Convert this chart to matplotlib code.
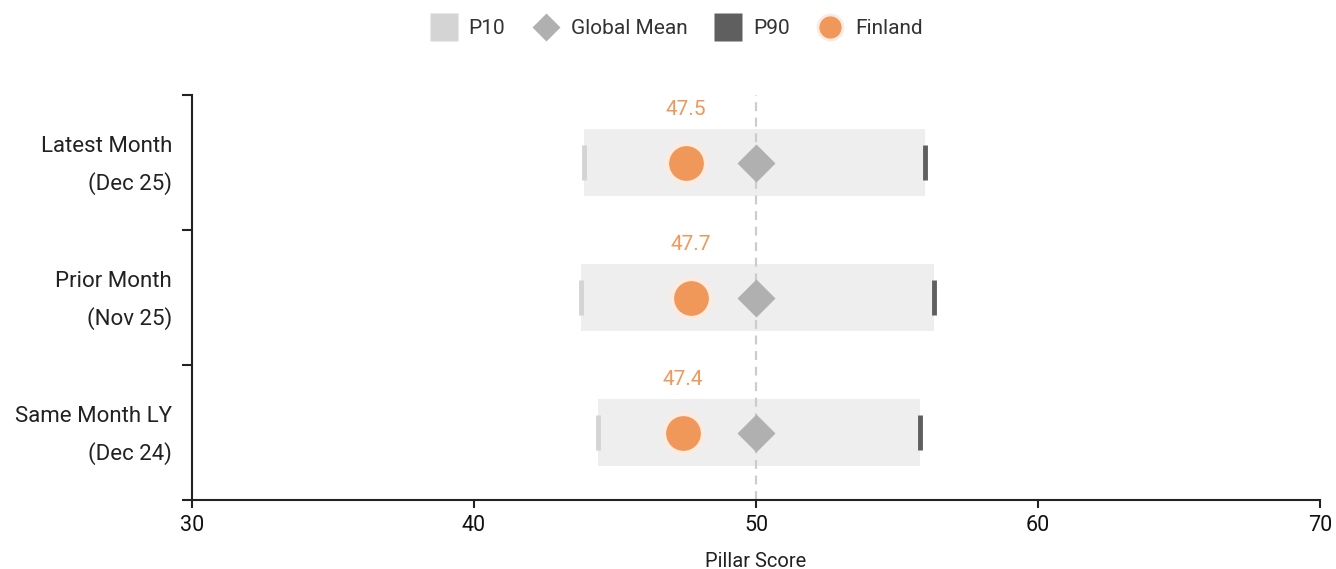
import matplotlib
matplotlib.use("Agg")
import matplotlib.pyplot as plt
import matplotlib.transforms as mtransforms
from matplotlib.lines import Line2D
from matplotlib.patches import Rectangle

plt.rcParams["font.family"] = ["Roboto", "DejaVu Sans"]

# Data
categories = ["Latest Month\n(Dec 25)", "Prior Month\n(Nov 25)", "Same Month LY\n(Dec 24)"]
p10 = [43.9, 43.8, 44.4]
p90 = [56.0, 56.3, 55.8]
global_mean = [50.0, 50.0, 50.0]
finland = [47.5, 47.7, 47.4]
x_ticks = [30, 40, 50, 60, 70]
reference_line = 50

# Colors
C_RANGE = "#eeeeee"
C_P10 = "#d4d4d4"
C_P90 = "#5f5f5f"
C_MEAN = "#b0b0b0"
C_FIN = "#f0975a"
C_HALO = "#fcebe0"
C_AXIS = "#222222"

fig = plt.figure(figsize=(13.36, 5.69), dpi=100)
ax = fig.add_axes([192 / 1336, 1 - 500 / 569, 1128 / 1336, 405 / 569])

n = len(categories)
centers = [i + 0.5 for i in range(n)]

# Reference line
ax.axvline(reference_line, color="#cccccc", lw=1.6, ls=(0, (4, 3)), zorder=1)

for yc, lo, hi, mu, fv in zip(centers, p10, p90, global_mean, finland):
    ax.add_patch(Rectangle((lo, yc - 0.25), hi - lo, 0.5, facecolor=C_RANGE,
                           edgecolor="none", zorder=0.5))
    ax.plot([lo, lo], [yc - 0.13, yc + 0.13], color=C_P10, lw=3.5,
            solid_capstyle="butt", zorder=2)
    ax.plot([hi, hi], [yc - 0.13, yc + 0.13], color=C_P90, lw=3.5,
            solid_capstyle="butt", zorder=2)
    ax.plot(mu, yc, marker="D", ms=19, color=C_MEAN, mec="none", zorder=3)
    ax.plot(fv, yc, marker="o", ms=28, color=C_FIN, mec=C_HALO, mew=3, zorder=4)
    ax.annotate(f"{fv:.1f}", (fv, yc - 0.25), xytext=(0, 7), textcoords="offset points",
                ha="center", va="bottom", color=C_FIN, fontsize=15)

ax.set_xlim(x_ticks[0], x_ticks[-1])
ax.set_ylim(n, 0)

ax.set_xticks(x_ticks)
ax.tick_params(axis="x", length=6, width=1.5, color=C_AXIS, labelsize=15.5,
               labelcolor="#111111", pad=5)
ax.set_xlabel("Pillar Score", fontsize=14.5, color="#222222", labelpad=11)

# Category labels (two lines, right-aligned left of the axis)
ax.set_yticks(list(range(n + 1)))
ax.set_yticklabels([])
ax.tick_params(axis="y", length=7, width=1.5, color=C_AXIS)
label_tf = mtransforms.blended_transform_factory(ax.transAxes, ax.transData) + \
    mtransforms.ScaledTranslation(-20 / 100, -3 / 100, fig.dpi_scale_trans)
for yc, cat in zip(centers, categories):
    ax.text(0, yc, cat, transform=label_tf, ha="right", va="center",
            fontsize=16, color="#222222", linespacing=1.8)

for s in ("top", "right"):
    ax.spines[s].set_visible(False)
for s in ("left", "bottom"):
    ax.spines[s].set_color(C_AXIS)
    ax.spines[s].set_linewidth(1.5)

# Legend
handles = [
    Line2D([], [], ls="none", marker="s", ms=20, color=C_P10, mec="none"),
    Line2D([], [], ls="none", marker="D", ms=14, color=C_MEAN, mec="none"),
    Line2D([], [], ls="none", marker="s", ms=20, color=C_P90, mec="none"),
    Line2D([], [], ls="none", marker="o", ms=18, color=C_FIN, mec=C_HALO, mew=2),
]
fig.legend(handles, ["P10", "Global Mean", "P90", "Finland"], loc="center",
           bbox_to_anchor=(677 / 1336, 1 - 29 / 569), ncol=4, frameon=False,
           fontsize=15, handlelength=1.2, handletextpad=0.6, columnspacing=1.35,
           labelcolor="#333333")

fig.savefig("out.png", dpi=100)
